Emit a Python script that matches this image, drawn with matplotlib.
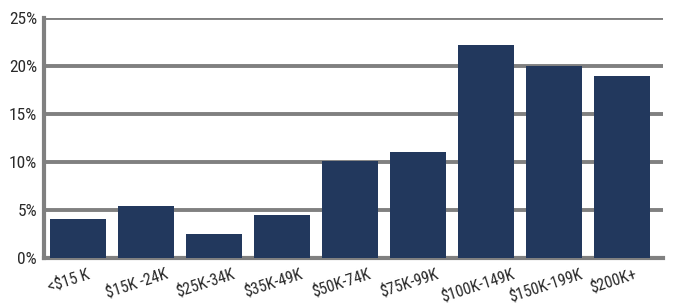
import matplotlib
matplotlib.use("Agg")
import matplotlib.pyplot as plt
from matplotlib import font_manager
from matplotlib.transforms import ScaledTranslation

categories = ["<$15 K", "$15K -24K", "$25K-34K", "$35K-49K", "$50K-74K",
              "$75K-99K", "$100K-149K", "$150K-199K", "$200K+"]
values = [4.0, 5.4, 2.5, 4.5, 10.1, 11.0, 22.2, 20.0, 19.0]
yticks = [0, 5, 10, 15, 20, 25]
ytick_labels = ["0%", "5%", "10%", "15%", "20%", "25%"]

names = {f.name for f in font_manager.fontManager.ttflist}
family = "DejaVu Sans"
for cand in ["Roboto Condensed", "Liberation Sans Narrow", "Open Sans Condensed", "Liberation Sans"]:
    if cand in names:
        family = cand
        break
plt.rcParams["font.family"] = [family, "DejaVu Sans"]

fig = plt.figure(figsize=(6.86, 3.08), dpi=100)
ax = fig.add_axes([0.0641, 0.1633, 0.9024, 0.7767])

x = list(range(len(categories)))
ax.bar(x, values, width=0.82, color="#22385D", zorder=3)

ax.set_ylim(0, 25)
ax.set_xlim(-0.5, 8.6)
ax.set_yticks(yticks)
ax.set_yticklabels(ytick_labels, fontsize=12.5, color="#2a2a2a")
ax.set_xticks(x)
ax.set_xticklabels(categories, fontsize=11.5, color="#2a2a2a", rotation=18,
                   ha="center", rotation_mode="default")
ax.tick_params(axis="both", length=0)
ax.tick_params(axis="y", pad=5)
ax.tick_params(axis="x", pad=6)
off = ScaledTranslation(-9 / 100, 0, fig.dpi_scale_trans)
for lbl in ax.get_xticklabels():
    lbl.set_transform(lbl.get_transform() + off)

ax.grid(axis="y", color="#808080", linewidth=2.8, zorder=1)
ax.set_axisbelow(True)
for s in ["top", "right"]:
    ax.spines[s].set_visible(False)
ax.spines["left"].set_color("#808080")
ax.spines["left"].set_linewidth(3)
ax.spines["bottom"].set_color("#808080")
ax.spines["bottom"].set_linewidth(3)

fig.savefig("out.png", dpi=100)
